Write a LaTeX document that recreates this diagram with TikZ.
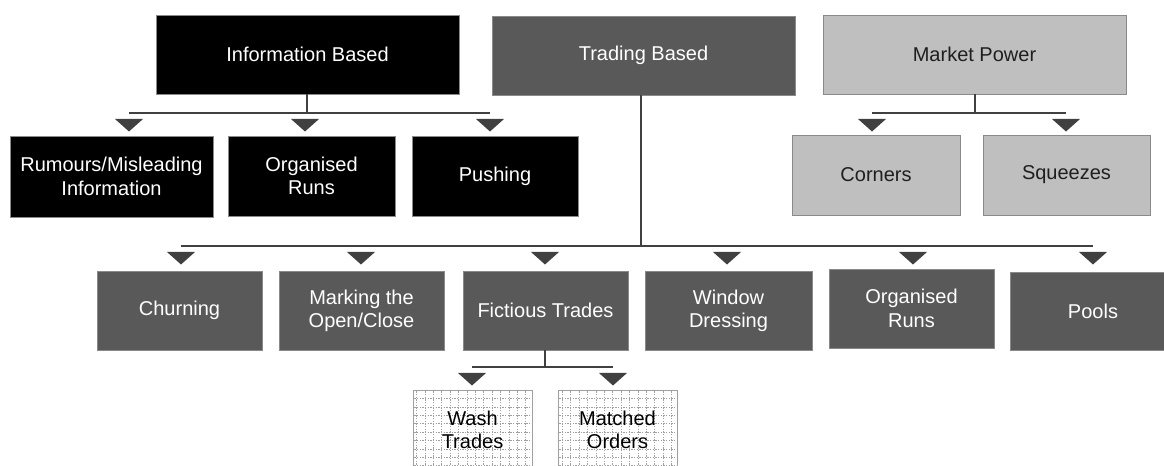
\documentclass[tikz,border=0pt]{standalone}
\usepackage{fontspec}
\setmainfont{Liberation Sans}
\usetikzlibrary{calc}
\definecolor{cdark}{HTML}{595959}
\definecolor{clight}{HTML}{BFBFBF}
\definecolor{cline}{HTML}{404040}
\definecolor{cedge}{HTML}{8A8A8A}
\definecolor{cgrid}{HTML}{A0A0A0}
\begin{document}
\begin{tikzpicture}[x=0.75pt,y=-0.75pt,
  wh/.style 2 args={minimum width=#1*0.75pt, minimum height=#2*0.75pt},
  basebox/.style={rectangle, inner sep=0pt, align=center, draw=cedge, line width=0.5pt,
    font=\fontsize{15}{17.5}\selectfont},
  infobox/.style={basebox, fill=black, text=white},
  tradebox/.style={basebox, fill=cdark, text=white},
  powerbox/.style={basebox, fill=clight, text=black!88},
  gridbox/.style={basebox, fill=white, text=black, draw=cgrid,
    path picture={\draw[cgrid, dash pattern=on 1pt off 1pt, line width=0.45pt, step=6.3pt]
      ([shift={(-1pt,-1pt)}]path picture bounding box.north west) grid (path picture bounding box.south east);}},
  conn/.style={draw=cline, line width=1pt},
  tri/.style={fill=cline}
]
\useasboundingbox (0,0) rectangle (1164,466);

% top row
\node[infobox, wh={303}{79}] (ib) at (307.5,54.5) {Information Based};
\node[tradebox, wh={303}{79}] (tb) at (643.5,55.5) {Trading Based};
\node[powerbox, wh={303}{79}] (mp) at (974.5,54.5) {Market Power};

% information children
\node[infobox, wh={203}{81}] (rum) at (111.5,176.5) {Rumours/Misleading\\Information};
\node[infobox, wh={167}{80}] (org1) at (311.5,176) {Organised\\Runs};
\node[infobox, wh={166}{80}] (push) at (495,176) {Pushing};

% market power children
\node[powerbox, wh={168}{80}] (corn) at (876,175) {Corners};
\node[powerbox, wh={167}{80}] (sqz) at (1066.5,175) {Squeezes};

% trading children
\node[tradebox, wh={165}{79}] (churn) at (179.5,310.5) {Churning};
\node[tradebox, wh={165}{79}] (mark) at (361.5,310.5) {Marking the\\Open/Close};
\node[tradebox, wh={165}{79}] (fict) at (545.5,310.5) {Fictious Trades};
\node[tradebox, wh={167}{79}] (wind) at (728.5,310.5) {Window\\Dressing};
\node[tradebox, wh={165}{79}] (org2) at (911.5,308.5) {Organised\\Runs};
\node[tradebox, wh={166}{78}] (pools) at (1093,311) {Pools};

% fictious children
\node[gridbox, wh={119}{80}] (wash) at (472.5,430) {Wash\\Trades};
\node[gridbox, wh={119}{80}] (match) at (617.5,430) {Matched\\Orders};

% bus coordinates
\coordinate (ibbus) at (307,113);
\coordinate (ibL) at (129,113);
\coordinate (ibM) at (305,113);
\coordinate (ibR) at (490,113);
\coordinate (mpbus) at (975,113);
\coordinate (mpL) at (872,113);
\coordinate (mpR) at (1066,113);
\coordinate (tbbus) at (641,246);
\coordinate (t1) at (181,246);
\coordinate (t2) at (361,246);
\coordinate (t3) at (545,246);
\coordinate (t4) at (727,246);
\coordinate (t5) at (913,246);
\coordinate (t6) at (1093,246);
\coordinate (fbus) at (545,367);
\coordinate (fL) at (472,367);
\coordinate (fR) at (613,367);

% connectors
\draw[conn] (ib.south -| ibbus) -- (ibbus);
\draw[conn] (ibL) -- (ibR);
\draw[conn] (mp.south -| mpbus) -- (mpbus);
\draw[conn] (mpL) -- (mpR);
\draw[conn] (tb.south -| tbbus) -- (tbbus);
\draw[conn] (t1) -- (t6);
\draw[conn] (fict.south -| fbus) -- (fbus);
\draw[conn] (fL) -- (fR);

% arrowheads
\foreach \c in {ibL,ibM,ibR,mpL,mpR,t1,t2,t3,t4,t5,t6,fL,fR}{
  \fill[tri] ($(\c)+(-14,6)$) -- ++(28,0) -- ++(-14,12.5) -- cycle;
}
\end{tikzpicture}
\end{document}
